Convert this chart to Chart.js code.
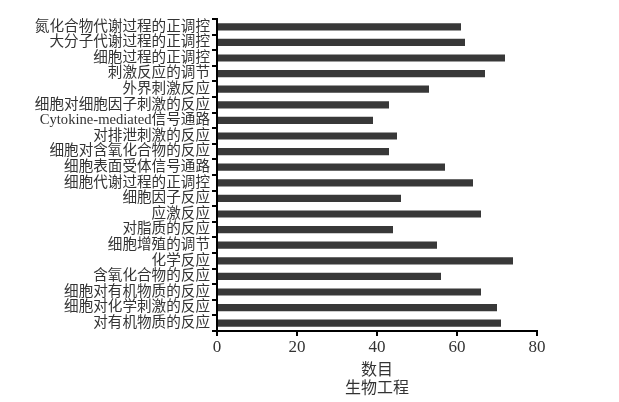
<!DOCTYPE html>
<html>
<head>
<meta charset="utf-8">
<script src="https://cdn.jsdelivr.net/npm/chart.js@4/dist/chart.umd.min.js"></script>
<style>
  html, body { margin: 0; padding: 0; background: #fff; }
  #wrap { width: 619px; height: 402px; position: relative; }
</style>
</head>
<body>
<div id="wrap"><canvas id="goChart"></canvas></div>
<script>
// GO 条目 (从上到下)
const categories = [
    '氮化合物代谢过程的正调控',
    '大分子代谢过程的正调控',
    '细胞过程的正调控',
    '刺激反应的调节',
    '外界刺激反应',
    '细胞对细胞因子刺激的反应',
    'Cytokine-mediated信号通路',
    '对排泄刺激的反应',
    '细胞对含氧化合物的反应',
    '细胞表面受体信号通路',
    '细胞代谢过程的正调控',
    '细胞因子反应',
    '应激反应',
    '对脂质的反应',
    '细胞增殖的调节',
    '化学反应',
    '含氧化合物的反应',
    '细胞对有机物质的反应',
    '细胞对化学刺激的反应',
    '对有机物质的反应'
];
const counts = [61, 62, 72, 67, 53, 43, 39, 45, 43, 57, 64, 46, 66, 44, 55, 74, 56, 66, 70, 71];
const xTicks = [0, 20, 40, 60, 80];
const xTitle = ['数目', '生物工程'];

const fontFamily = '"Liberation Serif", "Noto Sans CJK SC", serif';

const ctx = document.getElementById('goChart').getContext('2d');
new Chart(ctx, {
    type: 'bar',
    data: {
        labels: categories,
        datasets: [{
            data: counts,
            backgroundColor: '#383838',
            borderWidth: 0,
            barPercentage: 0.46,
            categoryPercentage: 1.0
        }]
    },
    options: {
        indexAxis: 'y',
        responsive: true,
        maintainAspectRatio: false,
        animation: false,
        layout: { padding: { top: 19, right: 82, bottom: 4, left: 0 } },
        plugins: {
            legend: { display: false },
            tooltip: { enabled: false }
        },
        scales: {
            x: {
                min: 0,
                max: 80,
                afterBuildTicks: axis => { axis.ticks = xTicks.map(v => ({ value: v })); },
                grid: { display: true, drawOnChartArea: false, drawTicks: true, tickLength: 5, color: '#000', lineWidth: 2 },
                border: { display: true, color: '#000', width: 2 },
                ticks: { color: '#333', padding: 1, font: { family: fontFamily, size: 17 } },
                title: {
                    display: true,
                    text: xTitle,
                    color: '#333',
                    padding: { top: 0, bottom: 0 },
                    font: { family: fontFamily, size: 16, lineHeight: 1.15 }
                },
                afterFit: axis => { axis.height = 67; }
            },
            y: {
                grid: { display: true, drawOnChartArea: false, drawTicks: true, tickLength: 5, color: '#000', lineWidth: 2 },
                border: { display: true, color: '#000', width: 2 },
                ticks: { color: '#333', padding: 2, autoSkip: false, font: { family: fontFamily, size: 14.6 } },
                afterFit: axis => { axis.width = 217; }
            }
        }
    }
});
</script>
</body>
</html>
